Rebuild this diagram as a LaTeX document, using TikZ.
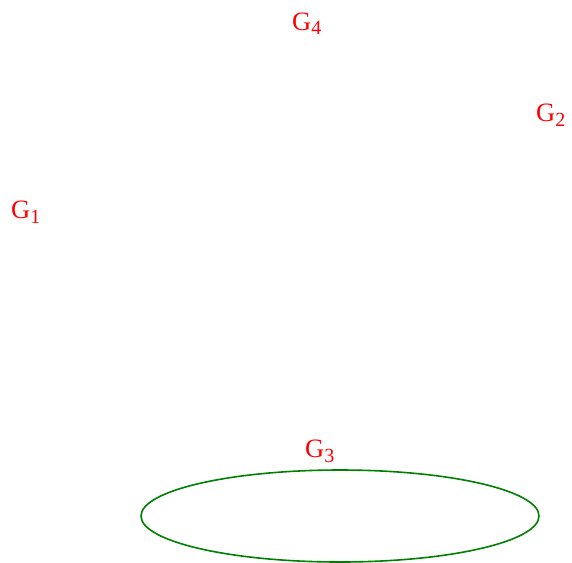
\documentclass[tikz,border=0pt]{standalone}
\usepackage{fontspec}
\setmainfont{Liberation Serif}
\definecolor{ggreen}{RGB}{0,128,0}
\newcommand{\glab}[1]{G\raisebox{-5pt}{\fontsize{20}{20}\selectfont #1}}
\begin{document}
\begin{tikzpicture}[x=1pt,y=-1pt,
  glabel/.style={text=red,font=\fontsize{26.5}{30}\selectfont,inner sep=0pt,anchor=base west}]
\useasboundingbox (0,0) rectangle (572,562);
\node[glabel] (g4) at (292,30) {\glab{4}};
\node[glabel] (g2) at (536,121) {\glab{2}};
\node[glabel] (g1) at (11,218) {\glab{1}};
\node[glabel] (g3) at (305,457) {\glab{3}};
\draw[ggreen,line width=1.6pt] (340,516) ellipse [x radius=199, y radius=46];
\end{tikzpicture}
\end{document}
